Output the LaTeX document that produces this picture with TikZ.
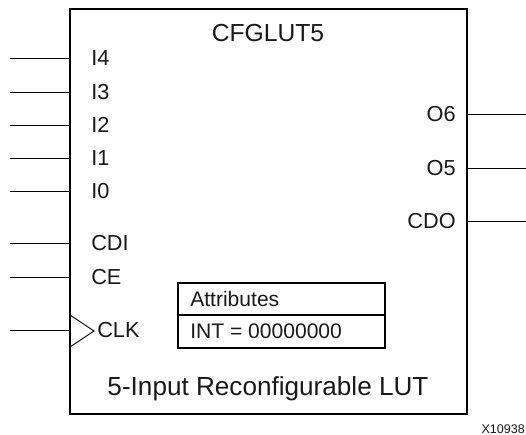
\documentclass[tikz,border=0pt]{standalone}
\usepackage{fontspec}
\setmainfont{Liberation Sans}
\tikzset{
  pin/.style={line width=0.65pt},
  frame/.style={line width=1.6pt},
  lab/.style={inner sep=0pt,font=\fontsize{16.3}{18}\selectfont,text=black!90},
  small/.style={lab,font=\fontsize{15.8}{18}\selectfont},
  big/.style={lab,font=\fontsize{19.6}{22}\selectfont},
}
\begin{document}
\begin{tikzpicture}[x=0.75pt,y=-0.75pt]
\useasboundingbox (0,0) rectangle (526,435);
\coordinate (b1) at (70,9); \coordinate (b2) at (467,414);
\draw[frame] (b1) rectangle (b2);
\node[lab,font=\fontsize{18.5}{22}\selectfont] (title) at (268,33) {CFGLUT5};
\foreach \n/\y in {I4/58,I3/92,I2/125,I1/158,I0/191,CDI/243,CE/277}{
  \node[lab,anchor=west] (l\n) at (91,\y) {\n};
  \coordinate (s\n) at (10,\y);
  \coordinate (e\n) at (70,\y);
  \draw[pin] (s\n) -- (e\n);
}
\coordinate (sclk) at (10,330);
\coordinate (eclk) at (70,330);
\draw[pin] (sclk) -- (eclk);
\coordinate (t1) at (70,315); \coordinate (t2) at (94,331); \coordinate (t3) at (70,347);
\draw[pin] (t1) -- (t2) -- (t3);
\node[lab,anchor=west] (lclk) at (97,330) {CLK};
\foreach \n/\y in {O6/114,O5/168,CDO/221}{
  \node[lab,anchor=east] (l\n) at (456,\y) {\n};
  \coordinate (s\n) at (467,\y);
  \coordinate (e\n) at (526,\y);
  \draw[pin] (s\n) -- (e\n);
}
\coordinate (a0) at (178,283); \coordinate (a3) at (385,348);
\draw[frame] (a0) rectangle (a3);
\coordinate (a1) at (178,315); \coordinate (a2) at (385,315);
\draw[frame] (a1) -- (a2);
\node[small,anchor=west] (at) at (190,298.5) {Attributes};
\node[small,anchor=west] (int) at (190,331) {INT = 00000000};
\node[big] (desc) at (268,389) {5-Input Reconfigurable LUT};
\node[lab,anchor=east,font=\fontsize{9.4}{11}\selectfont] (x) at (525,429) {X10938};
\end{tikzpicture}
\end{document}
